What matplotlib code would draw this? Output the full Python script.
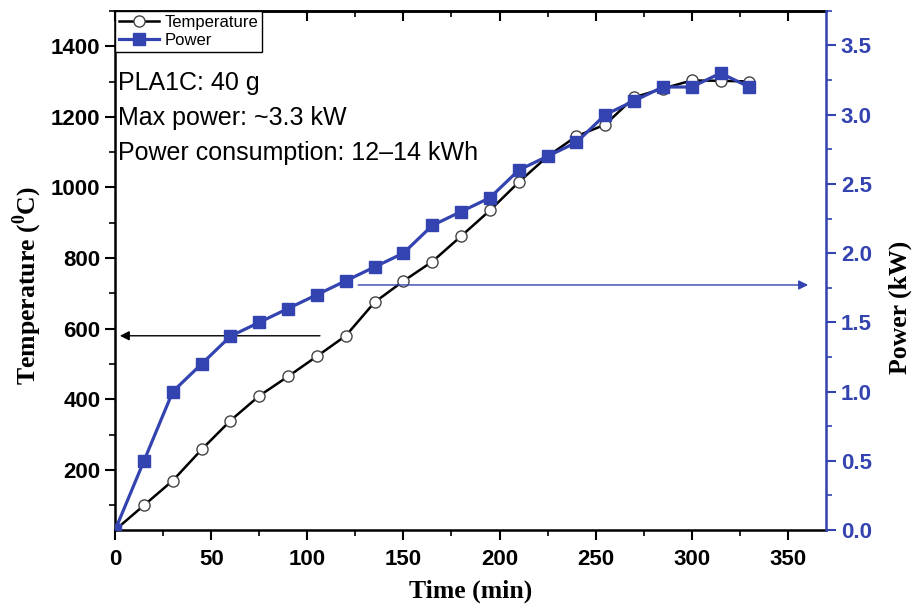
import matplotlib
matplotlib.use("Agg")
import matplotlib.pyplot as plt
from matplotlib.ticker import MultipleLocator, FormatStrFormatter

# Datos
time_min = [0, 15, 30, 45, 60, 75, 90, 105, 120, 135, 150, 165, 180, 195,
            210, 225, 240, 255, 270, 285, 300, 315, 330]
temperature = [30, 100, 170, 258, 340, 410, 465, 522, 580, 675, 735, 790, 862, 935,
               1015, 1088, 1145, 1178, 1255, 1280, 1303, 1302, 1300]
power = [0.0, 0.5, 1.0, 1.2, 1.4, 1.5, 1.6, 1.7, 1.8, 1.9, 2.0, 2.2, 2.3, 2.4,
         2.6, 2.7, 2.8, 3.0, 3.1, 3.2, 3.2, 3.3, 3.2]

notes = ["PLA1C: 40 g", "Max power: ~3.3 kW", "Power consumption: 12\u201314 kWh"]

BLUE = "#3343b0"
tick_font = {"family": "Liberation Sans", "weight": "bold", "size": 16}
label_font = {"family": "Liberation Serif", "weight": "bold", "size": 18.5}

plt.rcParams["mathtext.fontset"] = "custom"
plt.rcParams["mathtext.rm"] = "Liberation Serif:bold"
plt.rcParams["mathtext.bf"] = "Liberation Serif:bold"

fig = plt.figure(figsize=(9.14, 6.04), dpi=100)
ax = fig.add_axes([0.126, 0.1225, 0.778, 0.8595])
ax2 = ax.twinx()

# Curvas
l1, = ax.plot(time_min, temperature, color="black", lw=1.8, marker="o", ms=8,
              mfc="white", mec="#444444", mew=1.0, label="Temperature", zorder=3)
l2, = ax2.plot(time_min, power, color=BLUE, lw=2.3, marker="s", ms=8,
               mfc=BLUE, mec=BLUE, label="Power", zorder=3)

ax.set_xlim(0, 370)
ax.set_ylim(30, 1500)
ax2.set_ylim(0, 3.75)

# Eixos e ticks
ax.xaxis.set_major_locator(MultipleLocator(50))
ax.xaxis.set_minor_locator(MultipleLocator(25))
ax.set_yticks(range(200, 1401, 200))
ax.yaxis.set_minor_locator(MultipleLocator(100))
ax2.yaxis.set_major_locator(MultipleLocator(0.5))
ax2.yaxis.set_minor_locator(MultipleLocator(0.25))
ax2.yaxis.set_major_formatter(FormatStrFormatter("%.1f"))

ax.tick_params(axis="x", which="major", direction="out", length=7, width=1.5, pad=7)
ax.tick_params(axis="x", which="minor", direction="out", length=4, width=1.2)
ax.tick_params(axis="y", which="major", direction="out", length=7, width=1.5)
ax.tick_params(axis="y", which="minor", direction="out", length=4, width=1.2)
ax2.tick_params(axis="y", which="major", direction="out", length=7, width=1.5,
                colors=BLUE)
ax2.tick_params(axis="y", which="minor", direction="out", length=4, width=1.2,
                colors=BLUE)

# ticks do topo para dentro
top = ax.secondary_xaxis("top")
top.xaxis.set_major_locator(MultipleLocator(50))
top.xaxis.set_minor_locator(MultipleLocator(25))
top.tick_params(which="major", direction="in", length=7, width=1.5, labeltop=False)
top.tick_params(which="minor", direction="in", length=4, width=1.2)
top.spines["top"].set_linewidth(1.8)

for lab in ax.get_xticklabels() + ax.get_yticklabels():
    lab.set_fontproperties(tick_font)
for lab in ax2.get_yticklabels():
    lab.set_fontproperties(tick_font)
    lab.set_color(BLUE)

for s in ["left", "bottom", "top"]:
    ax.spines[s].set_linewidth(1.8)
ax2.spines["right"].set_color(BLUE)
ax2.spines["right"].set_linewidth(1.8)
ax2.spines["left"].set_visible(False)
ax2.spines["top"].set_visible(False)
ax2.spines["bottom"].set_visible(False)

ax.set_xlabel("Time (min)", fontdict=label_font)
ax.set_ylabel(r"Temperature ($^{0}$C)", fontdict=label_font)
ax2.set_ylabel("Power (kW)", fontdict=label_font)
ax.xaxis.set_label_coords(0.5, -0.095)
ax.yaxis.set_label_coords(-0.1, 0.47)
ax2.yaxis.set_label_coords(1.088, 0.428)

# Setas indicando o eixo de cada curva
ax.annotate("", xy=(1, 580), xytext=(108, 580),
            arrowprops=dict(arrowstyle="-|>", color="black", lw=1.0,
                            mutation_scale=14))
ax2.annotate("", xy=(362, 1.77), xytext=(125, 1.77),
             arrowprops=dict(arrowstyle="-|>", color=BLUE, lw=1.0,
                             mutation_scale=14))

# Texto
for i, t in enumerate(notes):
    ax.text(0.004, 0.861 - i * 0.067, t, transform=ax.transAxes,
            fontsize=18, family="Liberation Sans", va="center")

leg = ax.legend(handles=[l1, l2], loc="upper left", bbox_to_anchor=(0, 1),
                prop={"family": "Liberation Sans", "size": 12}, fancybox=False,
                edgecolor="black", framealpha=1, borderaxespad=0,
                handlelength=2.4, handletextpad=0.3, labelspacing=0.15,
                borderpad=0.25)
leg.get_frame().set_linewidth(1.0)
leg.set_zorder(10)

fig.savefig("out.png", dpi=100)
